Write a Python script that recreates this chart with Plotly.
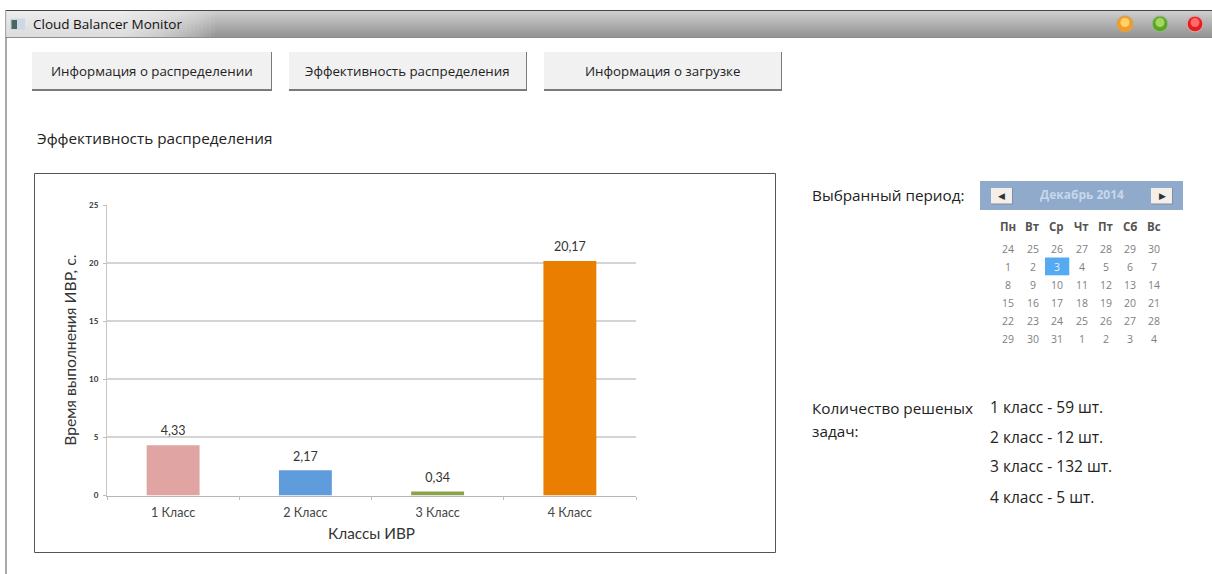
import plotly.graph_objects as go

# Chart data
class_names = ["1 Класс", "2 Класс", "3 Класс", "4 Класс"]
exec_times = [4.33, 2.17, 0.34, 20.17]
bar_colors = ["#e0a5a3", "#5f9cdc", "#8aa34a", "#ea7e00"]

# Panel texts
nav_buttons = ["Информация о распределении", "Эффективность распределения", "Информация о загрузке"]
weekdays = ["Пн", "Вт", "Ср", "Чт", "Пт", "Сб", "Вс"]
calendar_weeks = [
    [24, 25, 26, 27, 28, 29, 30],
    [1, 2, 3, 4, 5, 6, 7],
    [8, 9, 10, 11, 12, 13, 14],
    [15, 16, 17, 18, 19, 20, 21],
    [22, 23, 24, 25, 26, 27, 28],
    [29, 30, 31, 1, 2, 3, 4],
]
solved_counts = ["1 класс - 59 шт.", "2 класс - 12 шт.", "3 класс - 132 шт.", "4 класс - 5 шт."]

W, H = 1212, 574
UI_FONT = "Open Sans"
CHART_FONT = "Lato"


def px(x):
    return x / W


def py(y):
    return 1 - y / H


shapes = []
annotations = []


def rect(x0, y0, x1, y1, fill, line=None, lw=0, opacity=1, layer="below"):
    shapes.append(dict(type="rect", xref="paper", yref="paper",
                       x0=px(x0), x1=px(x1), y0=py(y0), y1=py(y1),
                       fillcolor=fill, opacity=opacity, layer=layer,
                       line=dict(color=line or fill, width=lw)))


def circle(cx, cy, r, fill, layer="above"):
    shapes.append(dict(type="circle", xref="paper", yref="paper",
                       x0=px(cx - r), x1=px(cx + r), y0=py(cy + r), y1=py(cy - r),
                       fillcolor=fill, layer=layer, line=dict(width=0)))


def label(x, y, text, size=13, color="#222222", anchor="left", font=UI_FONT, bold=False):
    annotations.append(dict(xref="paper", yref="paper", x=px(x), y=py(y),
                            text=f"<b>{text}</b>" if bold else text, showarrow=False,
                            xanchor=anchor, yanchor="middle", align=anchor,
                            borderpad=0, borderwidth=0,
                            font=dict(family=font, size=size, color=color)))


# Window title bar: vertical gradient built from one-pixel strips
for row in range(11, 37):
    t = (row - 11) / 25
    g = int(206 - 58 * t)
    rect(6, row, W, row + 1, f"rgb({g},{g},{g})")
rect(6, 10, W, 11, "#444444")
rect(6, 37, W, 38, "#8d8d8d")
rect(5.5, 10, 6.5, H, "#555555")

# Soft glow behind the window caption
for step in range(24):
    rect(6, 11, 215 - step * 4, 37, "#ffffff", opacity=0.055)

# Window icon and caption
rect(10, 18.5, 25, 30, "#cdd8e2", layer="above")
rect(11.5, 20, 17, 29, "#47685a", layer="above")
label(33, 24, "Cloud Balancer Monitor", size=13.5, color="#111111")

# Window control orbs
for cx, rim, body, shine in [(1125, "#d2a25c", "#f59c28", "#ffd36a"),
                             (1160, "#97b886", "#5aa52a", "#a4d85c"),
                             (1195, "#dca0a0", "#e02020", "#ff6a6a")]:
    circle(cx, 24, 8.5, rim)
    circle(cx, 24, 7.3, body)
    circle(cx, 22.5, 4.5, shine)

# Navigation buttons
button_spans = [(32, 271), (289, 526), (544, 781)]
for (x0, x1), caption in zip(button_spans, nav_buttons):
    rect(x0, 52, x1 + 1, 91, "#7a7a7a")
    rect(x0, 52, x1, 89, "#f1f1f1")
    label((x0 + x1) / 2, 71, caption, size=13.3, anchor="center")

label(37, 138, "Эффективность распределения", size=15.3)

# Frame around the chart
rect(34.5, 173.5, 775.5, 552.5, "#ffffff", line="#555555", lw=1)

# Calendar
rect(980, 181, 1183, 210, "#8faaca")
for x0 in (991, 1151):
    rect(x0, 188, x0 + 22, 204.5, "#7f8fa8")
    rect(x0, 188, x0 + 21, 203.5, "#f5efea")
label(1001.5, 196, "◀", size=9, color="#333333", anchor="center", font="DejaVu Sans")
label(1162, 196, "▶", size=9, color="#333333", anchor="center", font="DejaVu Sans")
label(1081.7, 194, "Декабрь 2014", size=12, color="#c7d7ec", anchor="center", bold=True)

col_x = [1008.3, 1032.7, 1056.7, 1081.7, 1105.7, 1130, 1154]
row_y = [248.7, 267, 285, 302.7, 321, 338.7]
for x, name in zip(col_x, weekdays):
    label(x, 226.7, name, size=11.5, color="#555555", anchor="center", bold=True)
rect(1045, 257.5, 1069.3, 275.3, "#56aaf2")
for y, week in zip(row_y, calendar_weeks):
    for x, day in zip(col_x, week):
        selected = (y == row_y[1] and day == 3)
        label(x, y, str(day), size=10.5, color="#e6f2ff" if selected else "#808080", anchor="center")

# Side captions
label(812, 195, "Выбранный период:", size=15.3)
label(812, 408, "Количество решеных", size=15.3)
label(812, 431, "задач:", size=15.3)
for y, line in zip([407, 437, 466, 497], solved_counts):
    label(990, y, line, size=15.5)

fig = go.Figure()
fig.add_bar(
    x=class_names,
    y=exec_times,
    width=0.4,
    marker=dict(color=bar_colors, line=dict(width=0)),
    hoverinfo="skip",
)
# Value captions sit on an invisible marker so they float clear of the bars
fig.add_scatter(
    x=class_names,
    y=exec_times,
    mode="markers+text",
    marker=dict(size=9, opacity=0),
    texttemplate="%{y:.2f}",
    textposition="top center",
    cliponaxis=False,
    textfont=dict(family=CHART_FONT, size=12.5, color="#333333"),
    hoverinfo="skip",
)

fig.update_layout(
    width=W,
    height=H,
    margin=dict(l=0, r=0, t=0, b=0),
    paper_bgcolor="#ffffff",
    plot_bgcolor="rgba(0,0,0,0)",
    separators=", ",
    showlegend=False,
    shapes=shapes,
    annotations=annotations,
    xaxis=dict(
        automargin=False,
        domain=[px(107), px(636)],
        type="category",
        tickson="boundaries",
        ticks="outside",
        ticklen=3,
        ticklabelstandoff=5,
        tickcolor="#bdbdbd",
        showline=True,
        linecolor="#b5b5b5",
        linewidth=1,
        showgrid=False,
        tickfont=dict(family=CHART_FONT, size=12.5, color="#444444"),
        title=dict(text="Классы ИВР", standoff=9,
                   font=dict(family=CHART_FONT, size=15.3, color="#333333")),
    ),
    yaxis=dict(
        automargin=False,
        domain=[py(495.5), py(205)],
        range=[0, 25],
        tickmode="linear",
        tick0=0,
        dtick=5,
        ticks="outside",
        ticklen=3,
        ticklabelstandoff=3,
        tickcolor="#bdbdbd",
        showline=True,
        linecolor="#c8c8c8",
        linewidth=1,
        showgrid=True,
        gridcolor="#d4d4d4",
        gridwidth=1.5,
        zeroline=False,
        tickfont=dict(family=CHART_FONT, size=8, color="#333333", weight="bold"),
        title=dict(text="Время выполнения ИВР, с.", standoff=8,
                   font=dict(family=CHART_FONT, size=15.7, color="#333333")),
    ),
)

fig.write_html("out.html")
